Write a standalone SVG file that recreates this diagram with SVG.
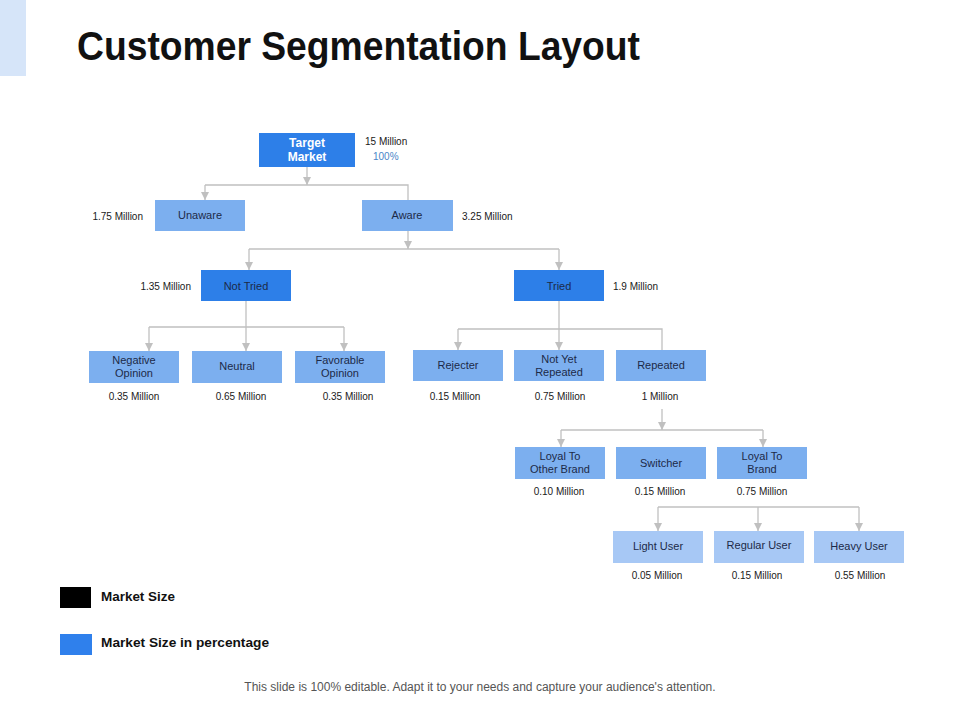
<svg xmlns="http://www.w3.org/2000/svg" width="960" height="720" viewBox="0 0 960 720">
<style>
.t{font-family:"Liberation Sans",Arial,sans-serif}
.lbl{font-family:"Liberation Sans",Arial,sans-serif;font-size:11px;fill:#1c2a48;text-anchor:middle}
.val{font-family:"Liberation Sans",Arial,sans-serif;font-size:10px;fill:#1a1a1a}
.dk{fill:#2d7fe8}
.md{fill:#7cafef}
.lt{fill:#a7c8f5}
.c{fill:none;stroke:#c0c0c0;stroke-width:1.3}
</style>
<defs>
<marker id="ah" viewBox="0 0 10 10" refX="10" refY="5" markerWidth="8" markerHeight="8" markerUnits="userSpaceOnUse" orient="auto">
<path d="M0,0 L10,5 L0,10 z" fill="#c0c0c0"/>
</marker>
</defs>
<rect width="960" height="720" fill="#ffffff"/>
<rect x="0" y="0" width="26" height="76" fill="#d6e5f9"/>
<text class="t" x="77" y="60" font-size="40" font-weight="bold" fill="#111" textLength="563" lengthAdjust="spacingAndGlyphs">Customer Segmentation Layout</text>

<g id="connectors">
<path class="c" d="M307,167 V185" marker-end="url(#ah)"/>
<path class="c" d="M205,185 H408 V200"/>
<path class="c" d="M205,185 V200" marker-end="url(#ah)"/>
<path class="c" d="M408,231 V249" marker-end="url(#ah)"/>
<path class="c" d="M249,249 H559"/>
<path class="c" d="M249,249 V270" marker-end="url(#ah)"/>
<path class="c" d="M559,249 V270" marker-end="url(#ah)"/>
<path class="c" d="M246,301 V327 M149,327 H344"/>
<path class="c" d="M149,327 V351" marker-end="url(#ah)"/>
<path class="c" d="M246,327 V351" marker-end="url(#ah)"/>
<path class="c" d="M344,327 V351" marker-end="url(#ah)"/>
<path class="c" d="M559,301 V329 M458,329 H662 V350"/>
<path class="c" d="M458,329 V350" marker-end="url(#ah)"/>
<path class="c" d="M559,329 V350" marker-end="url(#ah)"/>
<path class="c" d="M662,409 V430" marker-end="url(#ah)"/>
<path class="c" d="M561,430 H763"/>
<path class="c" d="M561,430 V447" marker-end="url(#ah)"/>
<path class="c" d="M763,430 V447" marker-end="url(#ah)"/>
<path class="c" d="M658,507 H859"/>
<path class="c" d="M658,507 V531" marker-end="url(#ah)"/>
<path class="c" d="M758,507 V531" marker-end="url(#ah)"/>
<path class="c" d="M859,507 V531" marker-end="url(#ah)"/>
</g>

<g id="target-market">
<rect class="dk" x="259" y="133" width="96" height="34"/>
<text class="t" x="307" y="147" font-size="12" font-weight="bold" fill="#fff" text-anchor="middle">Target</text>
<text class="t" x="307" y="161" font-size="12" font-weight="bold" fill="#fff" text-anchor="middle">Market</text>
<text class="val" x="365" y="145">15 Million</text>
<text class="val" x="373" y="160" fill="#4a86c8" style="fill:#4a86c8">100%</text>
</g>

<g id="unaware">
<rect class="md" x="155" y="200" width="90" height="31"/>
<text class="lbl" x="200" y="219">Unaware</text>
<text class="val" x="143" y="220" text-anchor="end">1.75 Million</text>
</g>
<g id="aware">
<rect class="md" x="362" y="200" width="91" height="31"/>
<text class="lbl" x="407" y="219">Aware</text>
<text class="val" x="462" y="220">3.25 Million</text>
</g>

<g id="not-tried">
<rect class="dk" x="201" y="270" width="90" height="31"/>
<text class="lbl" x="246" y="290">Not Tried</text>
<text class="val" x="191" y="290" text-anchor="end">1.35 Million</text>
</g>
<g id="tried">
<rect class="dk" x="514" y="270" width="90" height="31"/>
<text class="lbl" x="559" y="290">Tried</text>
<text class="val" x="613" y="290">1.9 Million</text>
</g>

<g id="negative-opinion">
<rect class="md" x="89" y="351" width="90" height="32"/>
<text class="lbl" x="134" y="364">Negative</text>
<text class="lbl" x="134" y="377">Opinion</text>
<text class="val" x="134" y="400" text-anchor="middle">0.35 Million</text>
</g>
<g id="neutral">
<rect class="md" x="192" y="351" width="90" height="32"/>
<text class="lbl" x="237" y="370">Neutral</text>
<text class="val" x="241" y="400" text-anchor="middle">0.65 Million</text>
</g>
<g id="favorable-opinion">
<rect class="md" x="295" y="351" width="90" height="32"/>
<text class="lbl" x="340" y="364">Favorable</text>
<text class="lbl" x="340" y="377">Opinion</text>
<text class="val" x="348" y="400" text-anchor="middle">0.35 Million</text>
</g>

<g id="rejecter">
<rect class="md" x="413" y="350" width="90" height="31"/>
<text class="lbl" x="458" y="369">Rejecter</text>
<text class="val" x="455" y="400" text-anchor="middle">0.15 Million</text>
</g>
<g id="not-yet-repeated">
<rect class="md" x="514" y="350" width="90" height="31"/>
<text class="lbl" x="559" y="363">Not Yet</text>
<text class="lbl" x="559" y="376">Repeated</text>
<text class="val" x="560" y="400" text-anchor="middle">0.75 Million</text>
</g>
<g id="repeated">
<rect class="md" x="616" y="350" width="90" height="31"/>
<text class="lbl" x="661" y="369">Repeated</text>
<text class="val" x="660" y="400" text-anchor="middle">1 Million</text>
</g>

<g id="loyal-other-brand">
<rect class="md" x="515" y="447" width="90" height="32"/>
<text class="lbl" x="560" y="460">Loyal To</text>
<text class="lbl" x="560" y="473">Other Brand</text>
<text class="val" x="559" y="495" text-anchor="middle">0.10 Million</text>
</g>
<g id="switcher">
<rect class="md" x="616" y="447" width="90" height="32"/>
<text class="lbl" x="661" y="467">Switcher</text>
<text class="val" x="660" y="495" text-anchor="middle">0.15 Million</text>
</g>
<g id="loyal-brand">
<rect class="md" x="717" y="447" width="90" height="32"/>
<text class="lbl" x="762" y="460">Loyal To</text>
<text class="lbl" x="762" y="473">Brand</text>
<text class="val" x="762" y="495" text-anchor="middle">0.75 Million</text>
</g>

<g id="light-user">
<rect class="lt" x="613" y="531" width="90" height="32"/>
<text class="lbl" x="658" y="550">Light User</text>
<text class="val" x="657" y="579" text-anchor="middle">0.05 Million</text>
</g>
<g id="regular-user">
<rect class="lt" x="714" y="531" width="90" height="32"/>
<text class="lbl" x="759" y="549">Regular User</text>
<text class="val" x="757" y="579" text-anchor="middle">0.15 Million</text>
</g>
<g id="heavy-user">
<rect class="lt" x="814" y="531" width="90" height="32"/>
<text class="lbl" x="859" y="550">Heavy User</text>
<text class="val" x="860" y="579" text-anchor="middle">0.55 Million</text>
</g>

<g id="legend">
<rect x="60" y="587" width="31" height="21" fill="#000"/>
<text class="t" x="101" y="601" font-size="13" font-weight="bold" fill="#111" textLength="74" lengthAdjust="spacingAndGlyphs">Market Size</text>
<rect x="60" y="634" width="32" height="21" fill="#2f80ec"/>
<text class="t" x="101" y="647" font-size="13" font-weight="bold" fill="#111" textLength="168" lengthAdjust="spacingAndGlyphs">Market Size in percentage</text>
</g>

<text class="t" x="480" y="691" font-size="12" fill="#555" text-anchor="middle">This slide is 100% editable. Adapt it to your needs and capture your audience's attention.</text>
</svg>
